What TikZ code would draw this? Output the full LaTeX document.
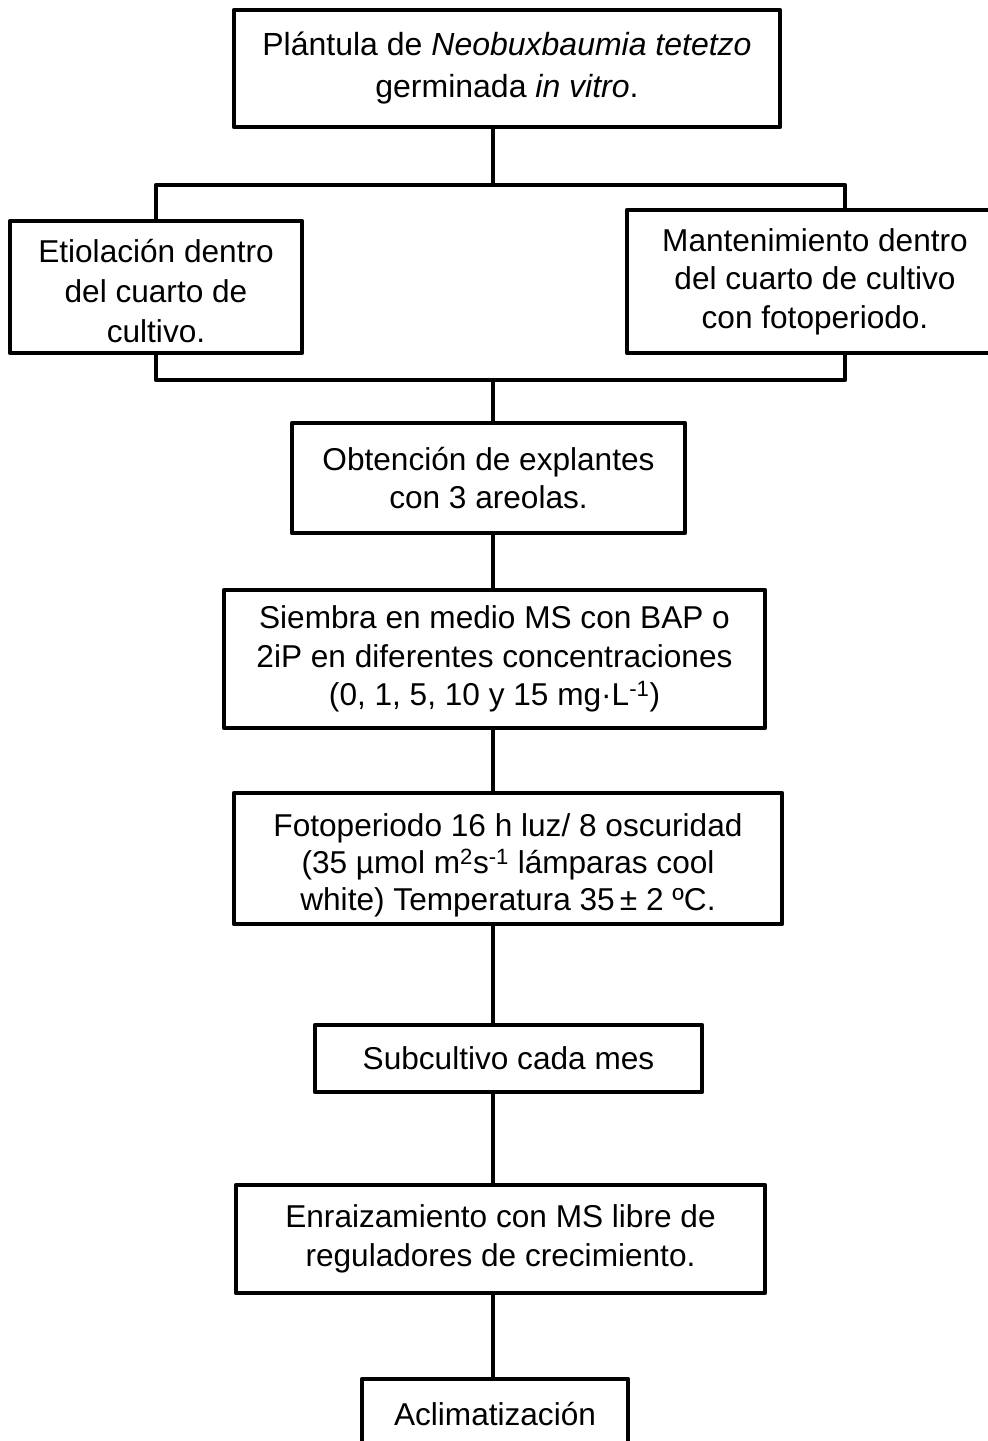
\documentclass[tikz,border=0pt]{standalone}
\usepackage{fontspec}
\setmainfont{Liberation Sans}
\begin{document}
\begin{tikzpicture}[x=1pt,y=-1pt,
  box/.style={draw, line width=4.5pt, line join=round, rectangle, align=center, inner sep=2pt,
    font=\fontsize{31.6}{38.5}\selectfont, fill=white},
  conn/.style={line width=4.3pt, line join=round}]
\fill[white] (0,0) rectangle (988,1441);
\useasboundingbox (0,0) rectangle (988,1441);
% boxes
\node[box, minimum width=546pt, minimum height=117pt, font=\fontsize{32}{42}\selectfont] (top) at (507,68.5)
  {Plántula de \textit{Neobuxbaumia tetetzo}\\germinada \textit{in vitro}.};
\node[box, minimum width=292pt, minimum height=132pt, font=\fontsize{31.6}{40}\selectfont, text height=111pt] (left) at (156,287)
  {Etiolación dentro\\del cuarto de\\cultivo.};
\node[box, minimum width=376pt, minimum height=143pt] (right) at (815,281.5)
  {Mantenimiento dentro\\del cuarto de cultivo\\con fotoperiodo.};
\node[box, minimum width=393pt, minimum height=110pt] (obt) at (488.5,478)
  {Obtención de explantes\\con 3 areolas.};
\node[box, minimum width=541pt, minimum height=138pt] (siem) at (494.5,659)
  {Siembra en medio MS con BAP o\\2iP en diferentes concentraciones\\(0, 1, 5, 10 y 15 mg·L\textsuperscript{-1})};
\node[box, minimum width=548pt, minimum height=131pt, font=\fontsize{31.6}{37}\selectfont, text height=111pt] (foto) at (508,858.5)
  {Fotoperiodo 16 h luz/ 8 oscuridad\\(35 µmol m\textsuperscript{2}s\textsuperscript{-1} lámparas cool\\white) Temperatura 35\,± 2 ºC.};
\node[box, minimum width=387pt, minimum height=67pt] (sub) at (508.5,1058.5)
  {Subcultivo cada mes};
\node[box, minimum width=529pt, minimum height=108pt] (enr) at (500.5,1239)
  {Enraizamiento con MS libre de\\reguladores de crecimiento.};
\node[box, minimum width=266pt, minimum height=70pt] (acl) at (495,1414)
  {Aclimatización};
% junctions
\coordinate (j1) at (493,185);
\coordinate (jl1) at (156,185);
\coordinate (jr1) at (845,185);
\coordinate (j2) at (493,380);
\coordinate (jl2) at (156,380);
\coordinate (jr2) at (845,380);
% connectors
\draw[conn] (top.south -| j1) -- (j1);
\draw[conn] (jl1 |- left.north) -- (jl1) -- (jr1) -- (jr1 |- right.north);
\draw[conn] (jl2 |- left.south) -- (jl2) -- (jr2) -- (jr2 |- right.south);
\draw[conn] (j2) -- (j2 |- obt.north);
\draw[conn] (obt.south -| j2) -- (siem.north -| j2);
\draw[conn] (siem.south -| j2) -- (foto.north -| j2);
\draw[conn] (foto.south -| j2) -- (sub.north -| j2);
\draw[conn] (sub.south -| j2) -- (enr.north -| j2);
\draw[conn] (enr.south -| j2) -- (acl.north -| j2);
\end{tikzpicture}
\end{document}
